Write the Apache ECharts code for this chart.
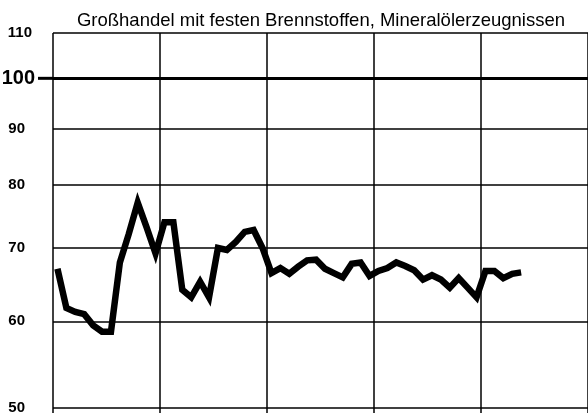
<!DOCTYPE html>
<html>
<head>
<meta charset="utf-8">
<script src="https://cdn.jsdelivr.net/npm/echarts@6/dist/echarts.min.js"></script>
<style>
  html, body { margin: 0; padding: 0; background: #fff; }
  #main { width: 588px; height: 417px; }
</style>
</head>
<body>
<div id="main"></div>
<script>
// 5 Jahre zu je 12 Monaten
var months = [];
for (var i = 0; i < 60; i++) {
    months.push('M' + (i + 1));
}

// Index, Monatswerte
var values = [
    67.0, 61.7, 61.2, 60.9, 59.5, 58.7, 58.7, 67.9, 72.1, 77.0, 73.1, 69.2,
    73.9, 73.9, 64.1, 63.1, 65.2, 63.1, 70.0, 69.7, 70.9, 72.4, 72.7, 70.0,
    66.4, 67.1, 66.3, 67.3, 68.2, 68.3, 67.0, 66.4, 65.8, 67.7, 67.9, 66.0,
    66.7, 67.1, 67.9, 67.4, 66.8, 65.5, 66.1, 65.5, 64.4, 65.7, 64.4, 63.1,
    66.7, 66.7, 65.7, 66.3, 66.5
];

var gridValues = [50, 60, 70, 80, 90, 100, 110];

var title = 'Großhandel mit festen Brennstoffen, Mineralölerzeugnissen';

var lines = gridValues.map(function(v) {
    var isHundred = v === 100;
    var digits = String(v).length;
    var label = {
        show: true,
        position: 'start',
        distance: digits === 3 ? 21 : 28,
        formatter: String(v),
        color: '#000',
        fontFamily: 'Liberation Sans',
        fontSize: 15,
        fontWeight: 'bold'
    };
    if (isHundred) {
        // 100 mit kleinem Strich bis zur Achse
        label.distance = 0;
        label.formatter = '{t|100}{g|}{d|}';
        label.rich = {
            t: { fontFamily: 'Liberation Sans', fontSize: 20, fontWeight: 'bold', color: '#000' },
            g: { width: 3, height: 3 },
            d: { width: 15, height: 3, backgroundColor: '#000' }
        };
    }
    return {
        yAxis: v,
        lineStyle: {
            color: '#000',
            width: isHundred ? 3 : 1.5,
            type: 'solid'
        },
        label: label
    };
});

var myChart = echarts.init(document.getElementById('main'));

var option = {
    animation: false,
    backgroundColor: '#fff',
    title: {
        text: title,
        left: 316,
        top: 6,
        textAlign: 'center',
        textStyle: {
            fontFamily: 'Liberation Sans',
            fontSize: 18.5,
            fontWeight: 'normal',
            color: '#000'
        }
    },
    grid: {
        left: 53,
        right: -1,
        top: 33,
        bottom: 9
    },
    xAxis: {
        type: 'category',
        data: months,
        boundaryGap: true,
        axisLine: { show: false },
        axisLabel: { show: false },
        axisTick: {
            show: true,
            interval: 11,
            length: 5,
            lineStyle: { color: '#000', width: 1.5 }
        },
        splitLine: {
            show: true,
            interval: 11,
            lineStyle: { color: '#000', width: 1.5 }
        }
    },
    yAxis: {
        type: 'log',
        min: 50,
        max: 110,
        axisLine: { show: false },
        axisLabel: { show: false },
        axisTick: { show: false },
        splitLine: { show: false }
    },
    series: [{
        type: 'line',
        data: values,
        symbol: 'none',
        silent: true,
        z: 5,
        lineStyle: {
            color: '#000',
            width: 6.5,
            join: 'miter',
            cap: 'butt'
        },
        markLine: {
            silent: true,
            symbol: ['none', 'none'],
            z: 3,
            data: lines
        }
    }]
};

myChart.setOption(option);
</script>
</body>
</html>
